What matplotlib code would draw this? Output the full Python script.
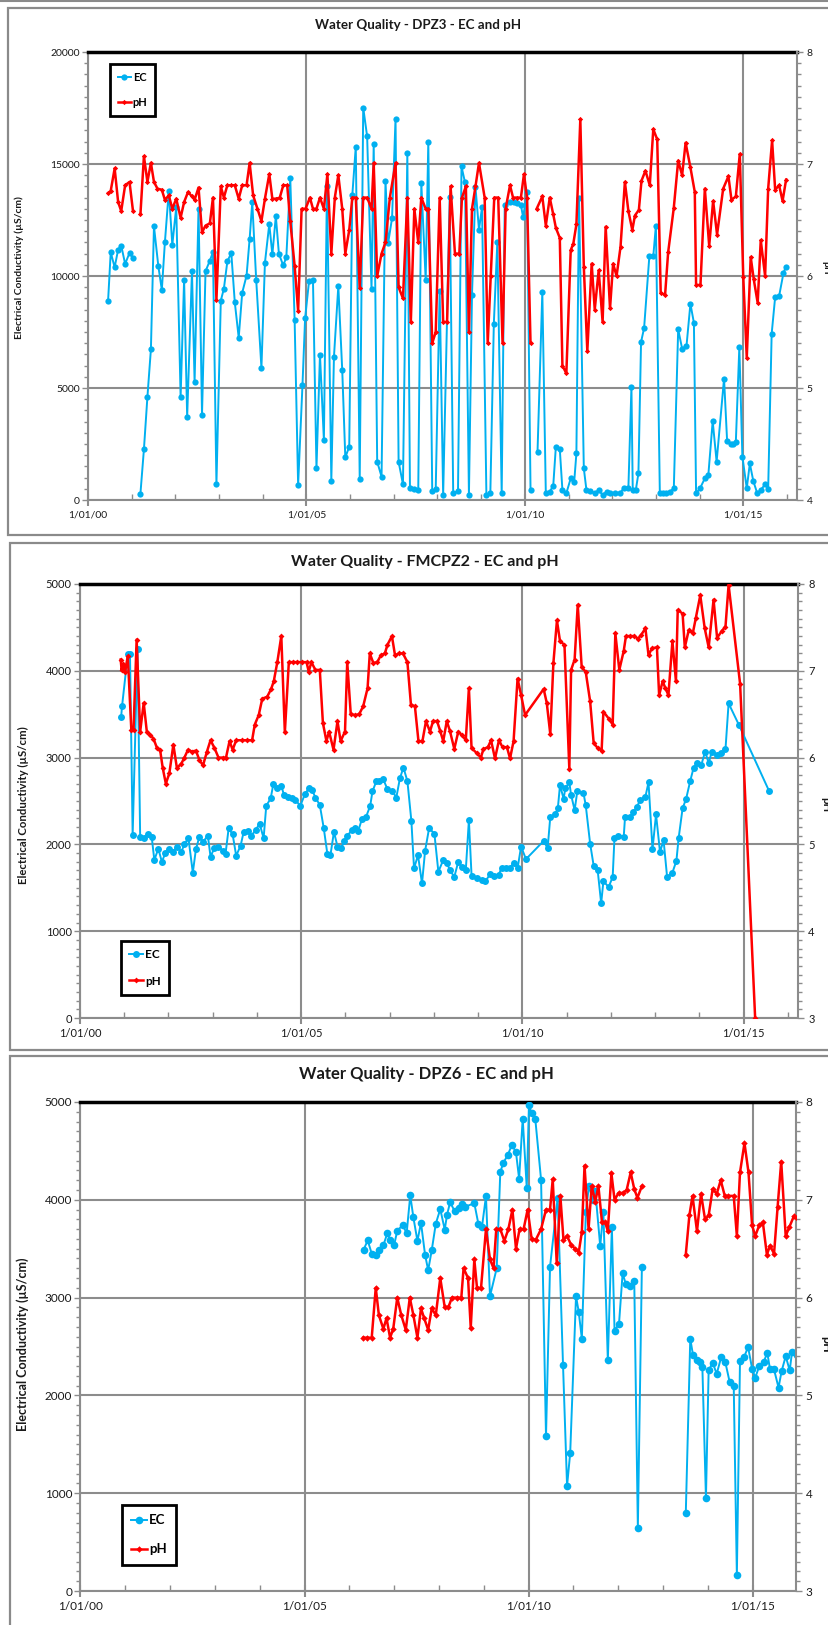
import numpy as np
import matplotlib
matplotlib.use("Agg")
import matplotlib.pyplot as plt
from matplotlib.patches import Rectangle
from matplotlib.ticker import FixedLocator, MultipleLocator

plt.rcParams['font.family'] = ['Lato', 'DejaVu Sans']

nan = np.nan

# ---- DPZ3 ----
dpz3_ec_year = [2000.46, 2000.52, 2000.61, 2000.69, 2000.76, 2000.85, 2000.95, 2001.03, 2001.12,
                2001.20, 2001.28, 2001.36, 2001.44, 2001.51, 2001.61, 2001.69, 2001.76, 2001.85, 2001.93,
                2002.02, 2002.12, 2002.20, 2002.27, 2002.38, 2002.44, 2002.53, 2002.61, 2002.69, 2002.79,
                2002.86, 2002.94, 2003.04, 2003.11, 2003.19, 2003.28, 2003.36, 2003.45, 2003.53, 2003.63,
                2003.70, 2003.76, 2003.85, 2003.97, 2004.05, 2004.15, 2004.22, 2004.30, 2004.37, 2004.47,
                2004.54, 2004.63, 2004.73, 2004.81, 2004.91, 2004.97, 2005.06, 2005.15, 2005.23, 2005.31,
                2005.40, 2005.47, 2005.57, 2005.63, 2005.73, 2005.82, 2005.89, 2005.98, 2006.05, 2006.13,
                2006.22, 2006.30, 2006.39, 2006.49, 2006.54, 2006.62, 2006.72, 2006.81, 2006.87, 2006.96,
                2007.04, 2007.11, 2007.21, 2007.31, 2007.37, 2007.47, 2007.56, 2007.63, 2007.73, 2007.79,
                2007.88, 2007.96, 2008.05, 2008.13, 2008.28, 2008.36, 2008.47, 2008.55, 2008.63, 2008.72,
                2008.79, 2008.87, 2008.95, 2009.02, 2009.12, 2009.21, 2009.29, 2009.37, 2009.47, 2009.54,
                2009.66, 2009.75, 2009.83, 2009.91, 2009.96, 2010.05, 2010.13, 2010.21,
                2010.29, 2010.40, 2010.48, 2010.57, 2010.65, 2010.71, 2010.80, 2010.86, 2010.95, 2011.05,
                2011.13, 2011.18, 2011.24, 2011.35, 2011.41, 2011.50, 2011.60, 2011.69, 2011.78, 2011.87,
                2011.96, 2012.06, 2012.18, 2012.27, 2012.37, 2012.44, 2012.47, 2012.54, 2012.60, 2012.66,
                2012.73, 2012.85, 2012.94, 2013.00, 2013.09, 2013.17, 2013.24, 2013.32, 2013.41, 2013.51,
                2013.60, 2013.70, 2013.79, 2013.87, 2013.92, 2014.01, 2014.12, 2014.20, 2014.30, 2014.39,
                2014.56, 2014.63, 2014.71, 2014.77, 2014.83, 2014.91, 2014.98, 2015.08, 2015.15, 2015.23,
                2015.32, 2015.40, 2015.50, 2015.57, 2015.65, 2015.73, 2015.82, 2015.92, 2015.97]
dpz3_ec = [8900, 11060, 10390, 11180, 11360, 10540, 11030, 10810, nan,
           280, 2260, 4600, 6730, 12220, 10440, 9380, 11500, 13800, 11390,
           13070, 4600, 9840, 3710, 10210, 5270, 13000, 3815, 10210, 10690,
           11060, 700, 8900, 9430, 10650, 11030, 8830, 7245, 9250, 10020,
           11660, 13290, 9840, 5890, 10590, 12320, 10960, 12670, 10990, 10470,
           10840, 14370, 8020, 670, 5150, 8120, 9770, 9800, 1410, 6490,
           2670, 14030, 860, 6380, 9550, 5790, 1900, 2380, 13600, 15780,
           935, 17520, 16230, 9430, 15890, 1710, 1040, 14250, 11460, 12580,
           17030, 1710, 700, 15490, 520, 490, 445, 14140, 9840, 15990,
           400, 490, 9350, 220, 13510, 300, 400, 14890, 14180, 220,
           9160, 13960, 12070, 13070, 220, 300, 7870, 11500, 300, 13170,
           13320, 13290, 13260, 13170, 12620, 13760, 445, nan,
           2150, 9280, 300, 370, 640, 2380, 2270, 445, 300, 965,
           817, 2080, 13500, 1410, 445, 400, 300, 445, 220, 370,
           300, 300, 300, 550, 520, 5050, 445, 445, 1190, 7050,
           7680, 10880, 10880, 12250, 300, 300, 300, 370, 520, 7620,
           6760, 6870, 8760, 7910, 300, 520, 965, 1110, 3520, 1710,
           5420, 2640, 2520, 2520, 2600, 6830, 1930, 520, 1630, 846,
           300, 445, 700, 490, 7420, 9060, 9100, 10130, 10390]
dpz3_ph_year = [2000.46, 2000.52, 2000.61, 2000.69, 2000.76, 2000.85, 2000.95, 2001.03, 2001.12,
                2001.20, 2001.28, 2001.36, 2001.44, 2001.51, 2001.59, 2001.69, 2001.76, 2001.85, 2001.93,
                2002.02, 2002.12, 2002.20, 2002.29, 2002.38, 2002.44, 2002.53, 2002.61, 2002.69, 2002.79,
                2002.86, 2002.94, 2003.04, 2003.11, 2003.19, 2003.28, 2003.36, 2003.45, 2003.53, 2003.63,
                2003.70, 2003.78, 2003.88, 2003.97, 2004.05, 2004.15, 2004.22, 2004.31, 2004.39, 2004.47,
                2004.56, 2004.63, 2004.73, 2004.81, 2004.89, 2004.98, 2005.08, 2005.15, 2005.23, 2005.31,
                2005.40, 2005.48, 2005.57, 2005.65, 2005.73, 2005.82, 2005.89, 2005.98, 2006.05, 2006.13,
                2006.22, 2006.30, 2006.39, 2006.49, 2006.54, 2006.62, 2006.72, 2006.81, 2006.91, 2007.04,
                2007.11, 2007.21, 2007.31, 2007.39, 2007.47, 2007.56, 2007.63, 2007.73, 2007.79, 2007.88,
                2007.96, 2008.05, 2008.13, 2008.22, 2008.30, 2008.40, 2008.50, 2008.56, 2008.65, 2008.72,
                2008.79, 2008.87, 2008.95, 2009.08, 2009.15, 2009.22, 2009.30, 2009.39, 2009.49, 2009.56,
                2009.66, 2009.73, 2009.82, 2009.91, 2009.98, 2010.05, 2010.13, 2010.20,
                2010.27, 2010.40, 2010.48, 2010.57, 2010.65, 2010.71, 2010.80, 2010.86, 2010.95, 2011.05,
                2011.11, 2011.18, 2011.27, 2011.35, 2011.43, 2011.53, 2011.60, 2011.69, 2011.78, 2011.85,
                2011.95, 2012.02, 2012.10, 2012.19, 2012.29, 2012.37, 2012.46, 2012.52, 2012.61, 2012.67,
                2012.76, 2012.86, 2012.94, 2013.03, 2013.11, 2013.21, 2013.28, 2013.41, 2013.51, 2013.60,
                2013.68, 2013.79, 2013.89, 2013.92, 2014.02, 2014.12, 2014.22, 2014.31, 2014.40, 2014.54,
                2014.66, 2014.73, 2014.83, 2014.92, 2015.00, 2015.08, 2015.17, 2015.24, 2015.33, 2015.40,
                2015.50, 2015.57, 2015.66, 2015.73, 2015.82, 2015.90, 2015.98]
dpz3_ph = [6.74, 6.76, 6.96, 6.66, 6.58, 6.81, 6.84, 6.58, nan,
           6.55, 7.07, 6.84, 7.01, 6.84, 6.78, 6.77, 6.68, 6.72, 6.60,
           6.69, 6.52, 6.66, 6.75, 6.71, 6.68, 6.79, 6.39, 6.45, 6.47,
           6.70, 5.79, 6.80, 6.70, 6.81, 6.81, 6.81, 6.69, 6.81, 6.81,
           7.01, 6.72, 6.60, 6.49, 6.69, 6.91, 6.69, 6.69, 6.70, 6.81,
           6.81, 6.49, 6.09, 5.69, 6.60, 6.60, 6.70, 6.60, 6.60, 6.70,
           6.60, 6.91, 6.20, 6.70, 6.90, 6.60, 6.20, 6.41, 6.70, 6.70,
           5.89, 6.70, 6.70, 6.60, 7.01, 6.00, 6.20, 6.30, 6.70, 7.01,
           5.90, 5.80, 6.70, 5.59, 6.60, 6.30, 6.70, 6.60, 6.60, 5.40,
           5.50, 6.70, 5.59, 5.59, 6.80, 6.20, 6.20, 6.70, 6.80, 5.50,
           6.60, 6.80, 7.01, 6.70, 5.40, 6.00, 6.70, 6.70, 5.40, 6.60,
           6.81, 6.70, 6.70, 6.70, 6.91, 6.70, 5.40, nan,
           6.60, 6.71, 6.45, 6.70, 6.55, 6.43, 6.34, 5.20, 5.13, 6.23,
           6.29, 6.46, 7.40, 6.08, 5.33, 6.11, 5.70, 6.05, 5.59, 6.44,
           5.71, 6.11, 6.00, 6.26, 6.84, 6.58, 6.41, 6.54, 6.59, 6.85,
           6.94, 6.81, 7.31, 7.22, 5.85, 5.83, 6.21, 6.61, 7.03, 6.90,
           7.19, 6.97, 6.75, 5.92, 5.92, 6.78, 6.27, 6.67, 6.37, 6.78,
           6.89, 6.68, 6.71, 7.09, 5.99, 5.27, 6.17, 5.97, 5.76, 6.32,
           6.00, 6.78, 7.21, 6.77, 6.81, 6.67, 6.86]

# ---- FMCPZ2 ----
fmcpz2_ec_year = [2000.93, 2000.95, 2001.08, 2001.13, 2001.19, 2001.30, 2001.36, 2001.44, 2001.53, 2001.62,
                  2001.68, 2001.77, 2001.85, 2001.93, 2002.02, 2002.10, 2002.19, 2002.29, 2002.36, 2002.45,
                  2002.55, 2002.62, 2002.70, 2002.78, 2002.89, 2002.95, 2003.04, 2003.13, 2003.23, 2003.29,
                  2003.36, 2003.45, 2003.53, 2003.63, 2003.70, 2003.79, 2003.87, 2003.97, 2004.06, 2004.15,
                  2004.21, 2004.31, 2004.37, 2004.46, 2004.55, 2004.61, 2004.71, 2004.80, 2004.87, 2004.98,
                  2005.08, 2005.17, 2005.25, 2005.32, 2005.42, 2005.51, 2005.59, 2005.66, 2005.74, 2005.82,
                  2005.91, 2005.97, 2006.04, 2006.14, 2006.22, 2006.29, 2006.37, 2006.46, 2006.56, 2006.61,
                  2006.70, 2006.76, 2006.85, 2006.95, 2007.06, 2007.15, 2007.23, 2007.31, 2007.40, 2007.49,
                  2007.55, 2007.64, 2007.73, 2007.80, 2007.89, 2008.01, 2008.10, 2008.21, 2008.29, 2008.36,
                  2008.46, 2008.55, 2008.63, 2008.72, 2008.79, 2008.85, 2008.97, 2009.08, 2009.16, 2009.27,
                  2009.36, 2009.46, 2009.53, 2009.62, 2009.72, 2009.80, 2009.89, 2009.97, 2010.08, 2010.48,
                  2010.57, 2010.63, 2010.74, 2010.80, 2010.85, 2010.93, 2010.97, 2011.06, 2011.10, 2011.18,
                  2011.24, 2011.38, 2011.43, 2011.53, 2011.61, 2011.70, 2011.78, 2011.83, 2011.95, 2012.04,
                  2012.08, 2012.17, 2012.29, 2012.32, 2012.44, 2012.51, 2012.59, 2012.66, 2012.78, 2012.85,
                  2012.94, 2013.02, 2013.11, 2013.19, 2013.27, 2013.39, 2013.48, 2013.53, 2013.62, 2013.70,
                  2013.79, 2013.87, 2013.94, 2014.04, 2014.13, 2014.21, 2014.28, 2014.40, 2014.49, 2014.59,
                  2014.66, 2014.89, 2015.58]
fmcpz2_ec = [3470, 3590, 4190, 4190, 2110, 4250, 2080, 2070, 2115, 2090,
             1820, 1950, 1800, 1900, 1950, 1915, 1975, 1915, 2000, 2075,
             1675, 1945, 2090, 2030, 2100, 1860, 1960, 1975, 1925, 1895,
             2185, 2115, 1870, 1985, 2145, 2155, 2100, 2165, 2240, 2070,
             2445, 2530, 2695, 2645, 2675, 2570, 2550, 2530, 2510, 2445,
             2575, 2645, 2625, 2540, 2455, 2185, 1895, 1875, 2145, 1975,
             1960, 2040, 2095, 2165, 2185, 2155, 2290, 2310, 2445, 2610,
             2730, 2735, 2755, 2635, 2615, 2540, 2760, 2885, 2730, 2270,
             1725, 1875, 1550, 1925, 2185, 2125, 1685, 1820, 1790, 1705,
             1625, 1800, 1740, 1705, 2280, 1640, 1610, 1590, 1575, 1655,
             1640, 1645, 1730, 1730, 1725, 1790, 1725, 1975, 1830, 2040,
             1955, 2320, 2345, 2415, 2685, 2525, 2645, 2715, 2570, 2395,
             2610, 2590, 2455, 2010, 1755, 1705, 1320, 1575, 1510, 1625,
             2070, 2100, 2090, 2320, 2320, 2375, 2435, 2510, 2550, 2715,
             1945, 2345, 1910, 2050, 1625, 1675, 1810, 2070, 2415, 2525,
             2725, 2885, 2935, 2910, 3070, 2935, 3070, 3030, 3050, 3100,
             3625, 3380, 2610]
fmcpz2_ph_year = [2000.92, 2000.94, 2000.98, 2001.02, 2001.08, 2001.16, 2001.21, 2001.28, 2001.36, 2001.44,
                  2001.51, 2001.59, 2001.66, 2001.74, 2001.81, 2001.87, 2001.94, 2002.02, 2002.11, 2002.19,
                  2002.29, 2002.36, 2002.44, 2002.53, 2002.62, 2002.70, 2002.78, 2002.87, 2002.95, 2003.04,
                  2003.13, 2003.23, 2003.30, 2003.38, 2003.45, 2003.53, 2003.66, 2003.78, 2003.89, 2003.95,
                  2004.04, 2004.12, 2004.23, 2004.32, 2004.38, 2004.46, 2004.55, 2004.63, 2004.72, 2004.82,
                  2004.91, 2005.02, 2005.12, 2005.17, 2005.23, 2005.32, 2005.42, 2005.49, 2005.57, 2005.63,
                  2005.73, 2005.82, 2005.89, 2005.99, 2006.04, 2006.12, 2006.22, 2006.31, 2006.40, 2006.50,
                  2006.55, 2006.63, 2006.72, 2006.80, 2006.89, 2006.95, 2007.05, 2007.12, 2007.21, 2007.30,
                  2007.40, 2007.48, 2007.57, 2007.65, 2007.74, 2007.82, 2007.91, 2007.98, 2008.07, 2008.14,
                  2008.21, 2008.29, 2008.36, 2008.46, 2008.55, 2008.63, 2008.72, 2008.79, 2008.85, 2008.97,
                  2009.06, 2009.12, 2009.22, 2009.29, 2009.38, 2009.47, 2009.55, 2009.65, 2009.72, 2009.80,
                  2009.89, 2009.97, 2010.06, 2010.48, 2010.55, 2010.63, 2010.70, 2010.78, 2010.85, 2010.95,
                  2011.06, 2011.10, 2011.18, 2011.25, 2011.34, 2011.43, 2011.53, 2011.61, 2011.70, 2011.79,
                  2011.83, 2011.95, 2012.04, 2012.10, 2012.19, 2012.29, 2012.34, 2012.44, 2012.53, 2012.61,
                  2012.68, 2012.78, 2012.85, 2012.93, 2013.04, 2013.09, 2013.17, 2013.23, 2013.30, 2013.39,
                  2013.47, 2013.51, 2013.62, 2013.67, 2013.76, 2013.85, 2013.92, 2014.02, 2014.12, 2014.21,
                  2014.32, 2014.40, 2014.51, 2014.59, 2014.66, 2014.92, 2015.26]
fmcpz2_ph = [7.13, 7.01, 7.08, 6.99, 7.17, 6.32, 6.32, 7.36, 6.30, 6.63,
             6.30, 6.26, 6.22, 6.11, 6.09, 5.88, 5.70, 5.82, 6.15, 5.88,
             5.93, 6.00, 6.09, 6.07, 6.08, 5.97, 5.91, 6.07, 6.20, 6.11,
             6.00, 6.00, 6.00, 6.19, 6.09, 6.20, 6.20, 6.20, 6.20, 6.38,
             6.49, 6.68, 6.70, 6.79, 6.88, 7.10, 7.40, 6.29, 7.10, 7.10,
             7.10, 7.10, 7.10, 6.99, 7.10, 7.01, 7.01, 6.40, 6.19, 6.30,
             6.09, 6.42, 6.19, 6.30, 7.10, 6.50, 6.49, 6.50, 6.59, 6.80,
             7.20, 7.09, 7.10, 7.18, 7.20, 7.30, 7.40, 7.18, 7.20, 7.20,
             7.10, 6.61, 6.59, 6.19, 6.19, 6.42, 6.30, 6.42, 6.42, 6.31,
             6.19, 6.42, 6.31, 6.10, 6.30, 6.26, 6.20, 6.80, 6.11, 6.05,
             6.00, 6.10, 6.12, 6.20, 5.99, 6.20, 6.12, 6.12, 5.99, 6.19,
             6.91, 6.72, 6.49, 6.79, 6.63, 6.27, 7.09, 7.58, 7.34, 7.30,
             5.87, 7.01, 7.13, 7.76, 7.04, 6.99, 6.65, 6.17, 6.11, 6.08,
             6.53, 6.45, 6.38, 7.43, 7.01, 7.23, 7.40, 7.40, 7.40, 7.37,
             7.41, 7.49, 7.18, 7.26, 7.27, 6.72, 6.88, 6.80, 6.72, 7.34,
             6.88, 7.70, 7.66, 7.27, 7.47, 7.43, 7.61, 7.87, 7.49, 7.27,
             7.82, 7.38, 7.46, 7.51, 7.99, 6.85, 3.00]

# ---- DPZ6 ----
dpz6_ec_year = [2006.32, 2006.41, 2006.50, 2006.59, 2006.66, 2006.76, 2006.85, 2006.91, 2007.00, 2007.07,
                2007.19, 2007.28, 2007.36, 2007.43, 2007.52, 2007.60, 2007.69, 2007.76, 2007.84, 2007.93,
                2008.03, 2008.13, 2008.18, 2008.25, 2008.35, 2008.44, 2008.51, 2008.59, 2008.79, 2008.88,
                2008.96, 2009.05, 2009.14, 2009.29, 2009.37, 2009.44, 2009.54, 2009.63, 2009.72, 2009.79,
                2009.87, 2009.96, 2010.01, 2010.07, 2010.15, 2010.28, 2010.39, 2010.48, 2010.65, 2010.77,
                2010.86, 2010.93, 2011.06, 2011.12, 2011.19, 2011.28, 2011.35, 2011.43, 2011.49, 2011.60,
                2011.67, 2011.77, 2011.86, 2011.92, 2012.02, 2012.10, 2012.17, 2012.27, 2012.36, 2012.44,
                2012.53, 2013.00,
                2013.51, 2013.61, 2013.67, 2013.76, 2013.83, 2013.88, 2013.96, 2014.02, 2014.11, 2014.20,
                2014.30, 2014.39, 2014.49, 2014.58, 2014.65, 2014.72, 2014.81, 2014.90, 2014.99, 2015.06,
                2015.15, 2015.25, 2015.33, 2015.39, 2015.48, 2015.58, 2015.65, 2015.74, 2015.83, 2015.88,
                2015.99]
dpz6_ec = [3490, 3585, 3450, 3440, 3490, 3535, 3660, 3590, 3535, 3685,
           3740, 3660, 4045, 3820, 3580, 3765, 3440, 3280, 3485, 3755,
           3905, 3695, 3845, 3975, 3885, 3920, 3955, 3930, 3965, 3755,
           3720, 4035, 3015, 3300, 4285, 4380, 4460, 4565, 4485, 4215,
           4830, 4125, 4965, 4885, 4830, 4205, 1580, 3315, 4020, 2310,
           1075, 1410, 3015, 2855, 2580, 3880, 4145, 4000, 4095, 3525,
           3880, 2360, 3720, 2660, 2735, 3250, 3140, 3120, 3165, 645,
           3315, nan,
           795, 2580, 2415, 2360, 2345, 2290, 950, 2255, 2335, 2220,
           2390, 2345, 2135, 2100, 160, 2355, 2390, 2495, 2275, 2180,
           2300, 2345, 2435, 2265, 2265, 2080, 2250, 2400, 2255, 2440,
           2415]
dpz6_ph_year = [2006.31, 2006.40, 2006.50, 2006.59, 2006.66, 2006.76, 2006.83, 2006.91, 2006.98, 2007.07,
                2007.16, 2007.26, 2007.35, 2007.43, 2007.52, 2007.60, 2007.67, 2007.76, 2007.84, 2007.93,
                2008.03, 2008.13, 2008.21, 2008.29, 2008.40, 2008.50, 2008.55, 2008.65, 2008.71, 2008.79,
                2008.85, 2008.94, 2009.05, 2009.14, 2009.22, 2009.28, 2009.37, 2009.46, 2009.55, 2009.64,
                2009.72, 2009.80, 2009.89, 2009.98, 2010.07, 2010.16, 2010.28, 2010.39, 2010.48, 2010.54,
                2010.63, 2010.71, 2010.78, 2010.86, 2010.95, 2011.04, 2011.12, 2011.19, 2011.25, 2011.34,
                2011.41, 2011.49, 2011.56, 2011.64, 2011.71, 2011.77, 2011.85, 2011.92, 2012.01, 2012.11,
                2012.19, 2012.28, 2012.36, 2012.43, 2012.53, 2013.00,
                2013.51, 2013.59, 2013.66, 2013.76, 2013.85, 2013.94, 2014.02, 2014.11, 2014.20, 2014.29,
                2014.38, 2014.46, 2014.58, 2014.65, 2014.72, 2014.82, 2014.91, 2014.99, 2015.06, 2015.15,
                2015.23, 2015.32, 2015.39, 2015.48, 2015.56, 2015.64, 2015.74, 2015.82, 2015.92, 2015.99]
dpz6_ph = [5.59, 5.59, 5.59, 6.10, 5.82, 5.68, 5.79, 5.59, 5.68, 6.00,
           5.82, 5.67, 6.00, 5.82, 5.59, 5.89, 5.79, 5.67, 5.89, 5.82,
           6.20, 5.90, 5.90, 6.00, 6.00, 6.00, 6.30, 6.20, 5.69, 6.39,
           6.10, 6.10, 6.70, 6.39, 6.30, 6.70, 6.70, 6.58, 6.70, 6.90,
           6.50, 6.70, 6.70, 6.90, 6.60, 6.59, 6.70, 6.90, 6.90, 7.21,
           6.35, 7.04, 6.59, 6.63, 6.54, 6.50, 6.46, 6.67, 7.35, 6.70,
           7.14, 6.98, 7.14, 6.77, 6.77, 6.68, 7.27, 7.00, 7.07, 7.07,
           7.10, 7.28, 7.11, 7.02, 7.14, nan,
           6.44, 6.84, 7.04, 6.68, 7.06, 6.80, 6.84, 7.11, 7.06, 7.20,
           7.04, 7.04, 7.04, 6.63, 7.28, 7.58, 7.28, 6.74, 6.63, 6.74,
           6.77, 6.44, 6.53, 6.45, 6.93, 7.39, 6.63, 6.72, 6.83, 6.81]

x_tick_years = [2000, 2005, 2010, 2015]
x_tick_labels = ['1/01/00', '1/01/05', '1/01/10', '1/01/15']

W, H = 829, 1625
EC_COLOR = '#00b0f0'
PH_COLOR = '#ff0000'
GRID = '#8c8c8c'
TXT = '#1a1a1a'

fig = plt.figure(figsize=(W / 100, H / 100), dpi=100)
fig.patch.set_facecolor('white')


def fx(x):
    return x / W


def fy(y):
    return 1 - y / H


def draw_panel(lay, title, ec_x, ec_y, ph_x, ph_y, ec_top, ec_major, ph_bottom):
    # outer chart box
    x0, y0, x1, y1 = lay['box']
    fig.add_artist(Rectangle((fx(x0), fy(y1)), (x1 - x0) / W, (y1 - y0) / H,
                             transform=fig.transFigure, facecolor='white',
                             edgecolor='#8a8a8a', lw=1.6, zorder=-5))
    l, t, r, b = lay['area']
    ax = fig.add_axes([fx(l), fy(b), (r - l) / W, (b - t) / H])
    ax2 = ax.twinx()

    h1, = ax.plot(ec_x, ec_y, color=EC_COLOR, lw=1.4, marker='o', ms=lay['ms'],
                  markeredgewidth=0, zorder=3)
    h2, = ax2.plot(ph_x, ph_y, color=PH_COLOR, lw=1.8, marker='D', ms=lay['ms'] * 0.6,
                   markeredgewidth=0, zorder=3)

    ax.set_xlim(2000, lay['xmax'])
    ax.set_ylim(0, ec_top)
    ax2.set_ylim(ph_bottom, 8)

    fs = lay['fs']
    ax.xaxis.set_major_locator(FixedLocator(x_tick_years))
    ax.set_xticklabels(x_tick_labels)
    ax.xaxis.set_minor_locator(FixedLocator([y for y in range(2001, 2017) if y % 5]))
    ax.yaxis.set_major_locator(MultipleLocator(ec_major))
    ax.yaxis.set_minor_locator(MultipleLocator(ec_major / 10))
    ax.set_yticklabels([f'{int(v)}' for v in ax.get_yticks()])
    ax2.yaxis.set_major_locator(MultipleLocator(1))
    ax2.yaxis.set_minor_locator(MultipleLocator(0.1))
    ax2.set_yticklabels([f'{int(v)}' for v in ax2.get_yticks()])

    ax.set_axisbelow(True)
    ax.grid(True, which='major', color=GRID, lw=1.5)

    ax.tick_params(axis='y', which='major', direction='out', length=4, width=1,
                   color=GRID, labelsize=fs, labelcolor=TXT, pad=2)
    ax.tick_params(axis='y', which='minor', direction='out', length=3, width=1, color=GRID)
    ax.tick_params(axis='x', which='major', direction='inout', length=9, width=1.5,
                   color=GRID, labelsize=fs, labelcolor=TXT, pad=3)
    ax.tick_params(axis='x', which='minor', direction='in', length=4, width=1, color=GRID)
    ax2.tick_params(axis='y', which='major', direction='out', length=4, width=1,
                    color=GRID, labelsize=fs, labelcolor=TXT, pad=3)
    ax2.tick_params(axis='y', which='minor', direction='out', length=3, width=1, color=GRID)

    for s in ['left', 'bottom']:
        ax.spines[s].set_color(GRID)
        ax.spines[s].set_linewidth(1.5)
    ax.spines['right'].set_visible(False)
    ax.spines['top'].set_color('black')
    ax.spines['top'].set_linewidth(2.5)
    for s in ['left', 'bottom', 'top']:
        ax2.spines[s].set_visible(False)
    ax2.spines['right'].set_color(GRID)
    ax2.spines['right'].set_linewidth(1.5)

    tx, ty = lay['title_xy']
    fig.text(fx(tx), fy(ty), title, ha='center', va='center', fontweight='bold',
             fontsize=lay['title_fs'], color=TXT)
    yx, yy = lay['ylab_xy']
    fig.text(fx(yx), fy(yy), 'Electrical Conductivity (µS/cm)', rotation=90,
             ha='center', va='center', fontweight='bold', fontsize=lay['ylab_fs'], color=TXT)
    fig.text(fx(826), fy(yy), 'pH', rotation=270, ha='center', va='center',
             fontweight='bold', fontsize=lay['ylab_fs'], color=TXT)

    lx, ly = lay['leg_xy']
    leg = ax2.legend([h1, h2], ['EC', 'pH'], loc='upper left',
                     bbox_to_anchor=(fx(lx), fy(ly)), bbox_transform=fig.transFigure,
                     borderaxespad=0, fancybox=False, edgecolor='black', framealpha=1,
                     prop={'weight': 'bold', 'size': lay['leg_fs']},
                     handlelength=1.2, handletextpad=0.15, labelspacing=1.3, borderpad=0.7)
    leg.get_frame().set_linewidth(2)
    return ax, ax2


lay1 = dict(box=(8, 8, 850, 535), area=(88, 52, 797, 500), xmax=2016.23, ms=4.5, fs=7.5,
            title_xy=(418, 25), title_fs=9.6, ylab_xy=(19, 268), ylab_fs=7.4,
            leg_xy=(110, 64), leg_fs=8)
lay2 = dict(box=(10, 543, 850, 1050), area=(80, 584, 798.5, 1018), xmax=2016.24, ms=5, fs=8,
            title_xy=(425, 562), title_fs=11.5, ylab_xy=(23, 805), ylab_fs=8.2,
            leg_xy=(121, 941), leg_fs=8.5)
lay3 = dict(box=(10, 1056, 850, 1660), area=(80.5, 1102, 796, 1591), xmax=2015.97, ms=5.5, fs=8.5,
            title_xy=(426, 1074), title_fs=12, ylab_xy=(23, 1344), ylab_fs=9,
            leg_xy=(122, 1505), leg_fs=9.5)

draw_panel(lay1, 'Water Quality - DPZ3 - EC and pH', dpz3_ec_year, dpz3_ec,
           dpz3_ph_year, dpz3_ph, 20000, 5000, 4)
draw_panel(lay2, 'Water Quality - FMCPZ2 - EC and pH', fmcpz2_ec_year, fmcpz2_ec,
           fmcpz2_ph_year, fmcpz2_ph, 5000, 1000, 3)
draw_panel(lay3, 'Water Quality - DPZ6 - EC and pH', dpz6_ec_year, dpz6_ec,
           dpz6_ph_year, dpz6_ph, 5000, 1000, 3)

# thin frame line along the very top of the image
fig.add_artist(plt.Line2D([0, 1], [fy(0.5), fy(0.5)], transform=fig.transFigure,
                          color='#8a8a8a', lw=1.5))

fig.savefig('out.png', dpi=100, facecolor='white')
